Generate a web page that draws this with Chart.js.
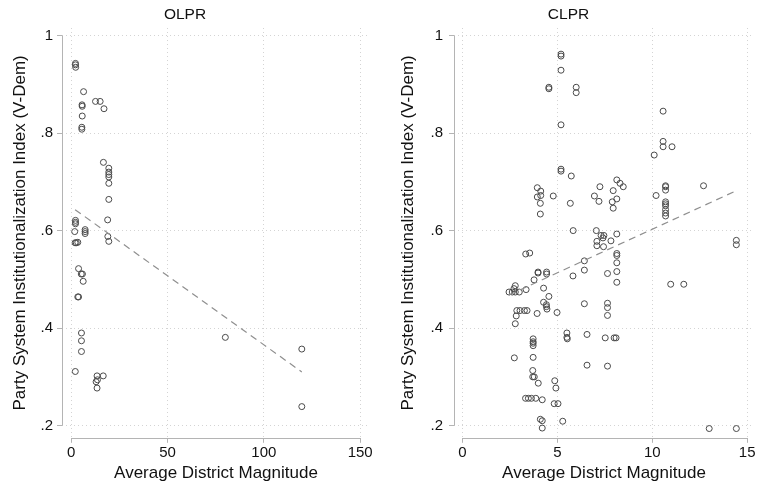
<!DOCTYPE html>
<html>
<head>
<meta charset="utf-8">
<script src="https://cdn.jsdelivr.net/npm/chart.js@4.4.1/dist/chart.umd.min.js"></script>
<style>
  html, body { margin: 0; padding: 0; background: #fff; }
  #wrap { position: relative; width: 758px; height: 485px; overflow: hidden; }
  .panel { position: absolute; top: 0; }
</style>
</head>
<body>
<div id="wrap">
  <canvas id="olpr" class="panel" width="379" height="485" style="left:0"></canvas>
  <canvas id="clpr" class="panel" width="379" height="485" style="left:379px"></canvas>
</div>
<script>
// axis ticks
const yTicks = [0.2, 0.4, 0.6, 0.8, 1];
const yTickLabels = ['.2', '.4', '.6', '.8', '1'];
const olprXTicks = [0, 50, 100, 150];
const clprXTicks = [0, 5, 10, 15];

// OLPR panel: average district magnitude vs PSI
const olprX = [2.2, 2.2, 2.3, 6.4, 5.6, 5.7, 5.7, 5.5, 5.5, 12.6, 15, 17, 16.7,
  19.5, 19.5, 19.5, 19.5, 19.5, 19.5, 18.9, 2.2, 2.2, 2.2, 1.8, 7.2, 7.2, 7.2,
  2.0, 2.6, 3.4, 19, 19.5, 3.8, 5.2, 5.8, 6.2, 3.4, 3.8, 5.3, 5.3, 5.3, 2.1,
  13.4, 16.6, 12.9, 13.6, 13.4, 80, 119.7, 119.7];
const olprY = [0.943, 0.94, 0.935, 0.885, 0.858, 0.855, 0.835, 0.812, 0.808, 0.865, 0.865, 0.85, 0.74,
  0.728, 0.72, 0.715, 0.71, 0.697, 0.664, 0.622, 0.621, 0.617, 0.614, 0.598, 0.602, 0.598, 0.594,
  0.575, 0.575, 0.576, 0.588, 0.578, 0.522, 0.511, 0.511, 0.496, 0.464, 0.464, 0.39, 0.374, 0.352, 0.311,
  0.302, 0.302, 0.29, 0.294, 0.277, 0.381, 0.357, 0.239];
const olprFitX = [2.0, 119.7];
const olprFitY = [0.643, 0.31];

// CLPR panel
const clprX = [5.19, 5.19, 5.19, 4.55, 4.55, 5.99, 5.99, 5.19, 5.19, 5.19, 5.73,
  3.94, 4.12, 3.94, 4.12, 4.78, 4.1, 5.68, 4.1, 7.24, 6.95, 7.19, 5.83,
  7.05, 7.3, 7.45, 7.4, 7.08, 7.08, 7.43, 6.42, 6.42, 5.82, 3.33, 3.54,
  3.98, 3.98, 4.43, 4.43, 3.77, 2.78, 2.71, 2.45, 2.62, 2.78, 2.99,
  3.35, 4.27, 4.55, 4.27, 4.42, 4.42, 4.45, 3.93, 4.98, 6.42,
  2.86, 3.03, 3.26, 3.4, 2.83, 2.78, 5.5, 5.5, 5.52, 6.56,
  3.72, 3.72, 3.72, 3.72, 2.73, 3.72, 6.56, 3.7, 3.7, 3.78,
  3.99, 4.86, 4.92, 3.32, 3.47, 3.63, 3.86, 4.2, 4.83, 5.03,
  4.1, 4.2, 4.2, 5.28,
  10.57, 10.57, 10.57, 11.04, 10.1, 10.7, 10.7, 10.7, 12.7, 10.2,
  10.7, 10.7, 10.7, 10.7, 10.7, 10.7,
  8.13, 8.3, 8.47, 7.94, 7.89, 8.13, 7.94, 7.82, 8.13,
  8.13, 8.13, 8.13, 8.13, 8.13, 7.64, 7.64, 7.64, 7.64,
  7.52, 7.99, 8.09, 7.64, 10.97, 11.66, 14.43, 14.43, 13.0, 14.43];
const clprY = [0.962, 0.958, 0.929, 0.894, 0.891, 0.894, 0.883, 0.817, 0.726, 0.722, 0.712,
  0.688, 0.681, 0.669, 0.672, 0.671, 0.656, 0.656, 0.634, 0.69, 0.671, 0.66, 0.6,
  0.6, 0.59, 0.59, 0.585, 0.578, 0.569, 0.567, 0.538, 0.519, 0.507, 0.552, 0.554,
  0.515, 0.513, 0.515, 0.511, 0.499, 0.487, 0.481, 0.474, 0.474, 0.474, 0.474,
  0.479, 0.482, 0.465, 0.453, 0.448, 0.444, 0.439, 0.43, 0.432, 0.45,
  0.436, 0.436, 0.436, 0.436, 0.425, 0.409, 0.39, 0.381, 0.378, 0.387,
  0.378, 0.372, 0.369, 0.364, 0.339, 0.34, 0.324, 0.313, 0.3, 0.3,
  0.287, 0.292, 0.277, 0.256, 0.256, 0.256, 0.256, 0.253, 0.245, 0.245,
  0.213, 0.21, 0.195, 0.209,
  0.845, 0.783, 0.772, 0.772, 0.755, 0.692, 0.69, 0.683, 0.692, 0.672,
  0.659, 0.655, 0.651, 0.643, 0.636, 0.63,
  0.704, 0.697, 0.69, 0.682, 0.659, 0.665, 0.646, 0.579, 0.593,
  0.553, 0.549, 0.534, 0.516, 0.494, 0.512, 0.451, 0.442, 0.426,
  0.38, 0.38, 0.38, 0.322, 0.49, 0.49, 0.58, 0.571, 0.194, 0.194];
const clprFitX = [2.45, 14.43];
const clprFitY = [0.468, 0.682];

const FONT = "'Liberation Sans', Arial, sans-serif";
const zip = (xs, ys) => xs.map((x, i) => ({ x: x, y: ys[i] }));

// Stata-style axis lines: only from first to last tick
const axisLines = {
  id: 'axisLines',
  beforeDatasetsDraw(chart) {
    const { ctx, chartArea, scales: { x, y } } = chart;
    const xv = x.ticks.map(t => t.value), yv = y.ticks.map(t => t.value);
    ctx.save();
    ctx.strokeStyle = '#b4b4b4';
    ctx.lineWidth = 1;
    ctx.beginPath();
    const lx = Math.round(chartArea.left) + 0.5;
    ctx.moveTo(lx, y.getPixelForValue(Math.min(...yv)));
    ctx.lineTo(lx, y.getPixelForValue(Math.max(...yv)));
    const by = Math.round(chartArea.bottom) + 0.5;
    ctx.moveTo(x.getPixelForValue(Math.min(...xv)), by);
    ctx.lineTo(x.getPixelForValue(Math.max(...xv)), by);
    ctx.stroke();
    ctx.restore();
  }
};

function panel(id, p) {
  new Chart(document.getElementById(id), {
    type: 'scatter',
    data: {
      datasets: [
        { data: zip(p.fitX, p.fitY), showLine: true, borderColor: '#8f8f8f', borderWidth: 1.2,
          borderDash: [7, 5], pointRadius: 0, fill: false },
        { data: zip(p.x, p.y), pointRadius: 3, borderWidth: 1, borderColor: '#4a4a4a',
          backgroundColor: 'rgba(0,0,0,0)', pointHoverRadius: 3 }
      ]
    },
    options: {
      responsive: false, animation: false, devicePixelRatio: 1,
      layout: { padding: { left: 0, right: p.padRight, top: 0, bottom: 0 } },
      plugins: {
        legend: { display: false }, tooltip: { enabled: false },
        title: { display: true, text: p.title, color: '#111', font: { family: FONT, size: 15.5, weight: 'normal' },
          padding: { top: 5.7, bottom: 3.7 } }
      },
      scales: {
        x: {
          type: 'linear', min: p.xMin, max: p.xMax,
          afterBuildTicks: s => { s.ticks = p.xTicks.map(v => ({ value: v })); },
          afterFit: s => { s.height = 485 - 437.8; s.paddingLeft = 0; s.paddingRight = 0; },
          ticks: { autoSkip: false, maxRotation: 0, padding: 1, color: '#111', font: { family: FONT, size: 15 },
            callback: (v, i) => String(p.xTicks[i]) },
          grid: { color: '#d4d4d4', tickColor: '#b4b4b4', tickLength: 5, tickBorderDash: [] },
          border: { display: false, dash: [1, 3] },
          title: { display: true, text: 'Average District Magnitude', color: '#111',
            font: { family: FONT, size: 17 }, padding: { top: 0, bottom: 1.8 } }
        },
        y: {
          type: 'linear', min: 0.175, max: 1.0156,
          afterBuildTicks: s => { s.ticks = yTicks.map(v => ({ value: v })); },
          afterFit: s => { s.width = p.yWidth; s.paddingTop = 0; s.paddingBottom = 0; },
          ticks: { autoSkip: false, padding: p.yTickPad, color: '#111', font: { family: FONT, size: 15 },
            callback: (v, i) => yTickLabels[i] },
          grid: { color: '#d4d4d4', tickColor: '#b4b4b4', tickLength: 5, tickBorderDash: [] },
          border: { display: false, dash: [1, 3] },
          title: { display: true, text: 'Party System Institutionalization Index (V-Dem)', color: '#111',
            font: { family: FONT, size: 17 }, padding: { top: p.yTitlePad, bottom: 0 } }
        }
      }
    },
    plugins: [axisLines]
  });
}

panel('olpr', { title: 'OLPR', x: olprX, y: olprY, fitX: olprFitX, fitY: olprFitY,
  xTicks: olprXTicks, xMin: -4.8, xMax: 155.1, padRight: 9, yWidth: 62, yTickPad: 4, yTitlePad: 9.8 });
panel('clpr', { title: 'CLPR', x: clprX, y: clprY, fitX: clprFitX, fitY: clprFitY,
  xTicks: clprXTicks, xMin: -0.45, xMax: 15.36, padRight: 0, yWidth: 75, yTickPad: 6, yTitlePad: 19.3 });
</script>
</body>
</html>
